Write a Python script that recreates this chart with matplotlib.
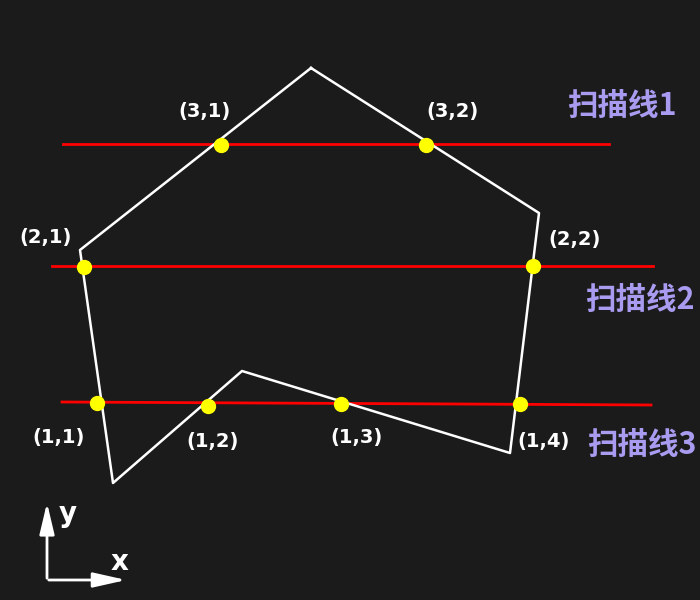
import matplotlib.pyplot as plt

# polygon vertices (pixel coords, y down)
poly_x = [311, 539, 510, 242, 113, 80, 311]
poly_y = [68, 213, 453, 371, 483, 250, 68]

# scan lines: x start, x end, y start, y end
scan_x0 = [63, 52, 62]
scan_x1 = [609, 653, 651]
scan_y0 = [144, 266, 402]
scan_y1 = [144, 266, 405]
scan_names = ['扫描线1', '扫描线2', '扫描线3']
scan_name_x = [622, 640, 642]
scan_name_y = [106, 300, 445]

# intersection points and labels
pt_x = [221, 426, 84, 533, 97, 208, 341, 520]
pt_y = [145, 145, 267, 266, 403, 406, 404, 404]
pt_labels = ['(3,1)', '(3,2)', '(2,1)', '(2,2)', '(1,1)', '(1,2)', '(1,3)', '(1,4)']
lab_x = [205, 452, 46, 575, 59, 213, 356, 544]
lab_y = [111, 111, 237, 240, 437, 442, 437, 441]

bg = '#1b1b1b'
fig = plt.figure(figsize=(7, 6), dpi=100, facecolor=bg)
ax = fig.add_axes([0, 0, 1, 1])
ax.set_facecolor(bg)
ax.set_xlim(0, 700)
ax.set_ylim(600, 0)
ax.axis('off')

for i in range(3):
    ax.plot([scan_x0[i], scan_x1[i]], [scan_y0[i], scan_y1[i]], color='#ff0000', lw=2, zorder=2)
    ax.text(scan_name_x[i], scan_name_y[i], scan_names[i], color='#a99cf0', fontsize=22,
            fontweight='bold', family=['Noto Sans CJK SC', 'DejaVu Sans'],
            ha='center', va='center')

ax.plot(poly_x, poly_y, color='white', lw=1.8, zorder=3)
ax.plot(pt_x, pt_y, 'o', color='#ffff00', markersize=10, zorder=4)

for lx, ly, t in zip(lab_x, lab_y, pt_labels):
    ax.text(lx, ly, t, color='white', fontsize=14, fontweight='bold',
            family=['DejaVu Sans'], ha='center', va='center')

# coordinate axes glyph
ax.annotate('', xy=(47, 500), xytext=(47, 581),
            arrowprops=dict(arrowstyle='-|>,head_length=1.9,head_width=0.45', color='white', lw=2))
ax.annotate('', xy=(129, 580), xytext=(46, 580),
            arrowprops=dict(arrowstyle='-|>,head_length=2.0,head_width=0.45', color='white', lw=2))
ax.text(68, 514, 'y', color='white', fontsize=20, fontweight='bold', ha='center', va='center')
ax.text(120, 562, 'x', color='white', fontsize=20, fontweight='bold', ha='center', va='center')

fig.savefig('out.png', dpi=100, facecolor=bg)
